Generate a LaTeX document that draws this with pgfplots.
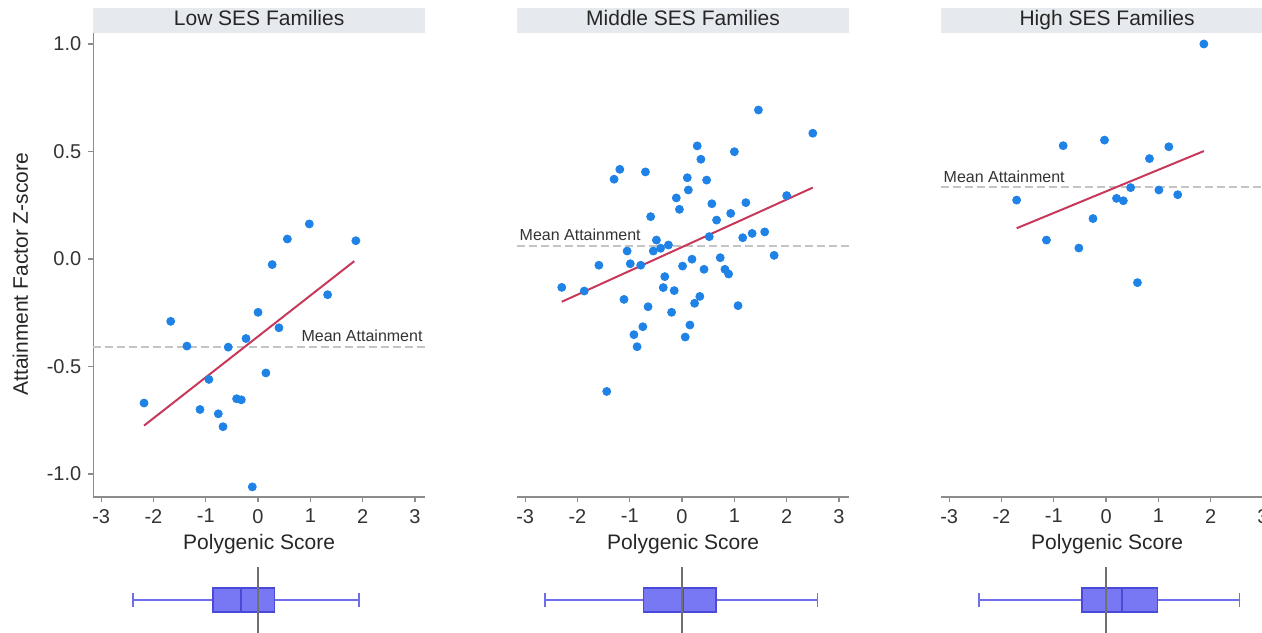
\documentclass[border=0pt]{standalone}
\usepackage{pgfplots}
\pgfplotsset{compat=1.18}
\usepgfplotslibrary{statistics}
\usepackage{fontspec}
\setmainfont{Liberation Sans}
\definecolor{ptblue}{HTML}{1F82E6}
\definecolor{fitred}{HTML}{C8385A}
\definecolor{meangray}{HTML}{C4C4C4}
\definecolor{titlebg}{HTML}{E6EAEE}
\definecolor{axgray}{HTML}{8C8C8C}
\definecolor{boxfill}{HTML}{7878F5}
\definecolor{boxedge}{HTML}{4A4AD8}
\definecolor{whisk}{HTML}{6F6FEE}
\definecolor{zerogray}{HTML}{707070}

\tikzset{meantext/.style={font=\fontsize{8}{10}\selectfont, text=black!80, inner sep=1pt}}
\pgfplotsset{
  every axis title shift=0pt,
  panel/.style={
    x=26.15pt, y=107.5pt, xmin=-3.15, xmax=3.19, ymin=-1.107, ymax=1.051,
    xtick={-3,-2,-1,0,1,2,3}, xticklabels={-3,-2,-1,0,1,2,3},
    axis x line*=bottom,
    axis line style={axgray, line width=0.6pt},
    tick style={axgray, line width=0.6pt},
    major tick length=2.5pt, tick align=outside,
    ticklabel style={font=\fontsize{10}{12}\selectfont, text=black!80},
    xlabel={Polygenic Score},
    every axis x label/.style={at={(axis description cs:0.5,-0.101)}, anchor=center,
      font=\fontsize{10.5}{12}\selectfont, text=black!85},
    every axis title/.style={fill=titlebg, minimum width=166pt, text height=7.6pt, text depth=2.4pt,
      inner xsep=0pt, inner ysep=1.25pt,
      anchor=south, at={(axis description cs:0.5,1)}, font=\fontsize{10.5}{12}\selectfont, text=black!85},
    clip=false,
  },
  meanline/.style={meangray, line width=0.8pt, dash pattern=on 4pt off 2pt},
  pts/.style={only marks, mark=*, mark size=2pt, mark options={ptblue, draw=ptblue}},
  fit/.style={fitred, line width=1pt},
  boxax/.style={
    x=26.15pt, y=12pt, xmin=-3.15, xmax=3.19, ymin=-1.4, ymax=1.4,
    hide axis, clip=false,
  },
  bp/.style={boxplot/draw direction=x,
    boxplot/every box/.style={draw=boxedge, fill=boxfill, line width=0.6pt},
    boxplot/every whisker/.style={whisk, line width=0.7pt},
    boxplot/every median/.style={boxedge, line width=0.8pt},
    whisk},
}

\begin{document}
\begin{tikzpicture}
\path[use as bounding box] (0,0) rectangle (631pt,316pt);

% ---------- Panel 1 ----------
\begin{axis}[panel, at={(46.65pt,67.5pt)}, anchor=south west,
  title={Low SES Families},
  axis y line*=left,
  ytick={-1,-0.5,0,0.5,1}, yticklabels={-1.0,-0.5,0.0,0.5,1.0},
  ylabel={Attainment Factor Z-score},
  every axis y label/.style={at={(axis description cs:-0.22,0.48)}, anchor=center, rotate=90,
    font=\fontsize{10.5}{12}\selectfont, text=black!85},
]
\addplot[meanline] coordinates {(-3.15,-0.41) (3.19,-0.41)};
\addplot[pts] table {
x y
0.98 0.163
0.56 0.093
1.87 0.085
0.27 -0.026
1.33 -0.166
0.00 -0.248
-1.67 -0.29
0.40 -0.32
-0.23 -0.37
-1.36 -0.405
-0.57 -0.41
0.15 -0.53
-0.94 -0.56
-2.18 -0.67
-0.41 -0.65
-0.32 -0.655
-1.11 -0.70
-0.76 -0.72
-0.67 -0.78
-0.11 -1.06
};
\addplot[fit] coordinates {(-2.18,-0.775) (1.84,-0.01)};
\node[meantext, anchor=east] at (axis cs:3.19,-0.358) {Mean Attainment};
\end{axis}

% ---------- Panel 2 ----------
\begin{axis}[panel, at={(258.65pt,67.5pt)}, anchor=south west,
  title={Middle SES Families},
  hide y axis,
]
\addplot[meanline] coordinates {(-3.15,0.06) (3.19,0.06)};
\addplot[pts] table {
x y
1.46 0.693
2.50 0.585
0.29 0.526
1.00 0.499
0.36 0.464
-1.19 0.417
-1.30 0.371
-0.70 0.405
0.10 0.378
0.47 0.367
0.12 0.321
-0.11 0.284
-0.05 0.231
0.57 0.257
1.22 0.262
2.00 0.295
0.93 0.212
0.66 0.181
-0.60 0.197
1.34 0.119
1.58 0.126
1.16 0.099
0.52 0.104
-0.49 0.088
-0.26 0.065
-0.41 0.050
-0.55 0.037
-1.05 0.037
1.76 0.017
0.73 0.006
0.19 -0.001
0.01 -0.033
-1.59 -0.029
-0.99 -0.022
-0.79 -0.029
0.42 -0.048
0.82 -0.048
0.89 -0.07
-0.33 -0.082
-2.30 -0.132
-1.87 -0.149
-0.36 -0.133
-0.15 -0.147
0.34 -0.174
-1.11 -0.188
0.24 -0.206
-0.65 -0.222
1.07 -0.217
-0.20 -0.248
0.15 -0.307
-0.75 -0.315
-0.92 -0.352
0.06 -0.363
-0.86 -0.408
-1.44 -0.616
};
\addplot[fit] coordinates {(-2.30,-0.199) (2.50,0.332)};
\node[meantext, anchor=west] at (axis cs:-3.15,0.112) {Mean Attainment};
\end{axis}

% ---------- Panel 3 ----------
\begin{axis}[panel, at={(470.65pt,67.5pt)}, anchor=south west,
  title={High SES Families},
  hide y axis,
]
\addplot[meanline] coordinates {(-3.15,0.336) (3.19,0.336)};
\addplot[pts] table {
x y
1.87 1.00
-0.03 0.553
-0.82 0.527
1.20 0.522
0.83 0.467
0.47 0.332
1.01 0.321
1.37 0.299
0.20 0.282
0.33 0.271
-1.71 0.274
-0.25 0.188
-1.14 0.088
-0.52 0.051
0.60 -0.110
};
\addplot[fit] coordinates {(-1.71,0.143) (1.87,0.502)};
\node[meantext, anchor=west] at (axis cs:-3.15,0.383) {Mean Attainment};
\end{axis}

% ---------- Box plots ----------
\begin{axis}[boxax, at={(46.65pt,-0.8pt)}, anchor=south west]
\addplot[bp, boxplot prepared={draw position=0, lower whisker=-2.39, lower quartile=-0.86,
  median=-0.33, upper quartile=0.31, upper whisker=1.93, box extend=1, whisker extend=0.6}]
  coordinates {};
\addplot[zerogray, line width=0.8pt] coordinates {(0,-1.4) (0,1.375)};
\end{axis}
\begin{axis}[boxax, at={(258.65pt,-0.8pt)}, anchor=south west]
\addplot[bp, boxplot prepared={draw position=0, lower whisker=-2.62, lower quartile=-0.73,
  median=0.02, upper quartile=0.65, upper whisker=2.59, box extend=1, whisker extend=0.6}]
  coordinates {};
\addplot[zerogray, line width=0.8pt] coordinates {(0,-1.4) (0,1.375)};
\end{axis}
\begin{axis}[boxax, at={(470.65pt,-0.8pt)}, anchor=south west]
\addplot[bp, boxplot prepared={draw position=0, lower whisker=-2.43, lower quartile=-0.46,
  median=0.31, upper quartile=0.99, upper whisker=2.55, box extend=1, whisker extend=0.6}]
  coordinates {};
\addplot[zerogray, line width=0.8pt] coordinates {(0,-1.4) (0,1.375)};
\end{axis}
\end{tikzpicture}
\end{document}
